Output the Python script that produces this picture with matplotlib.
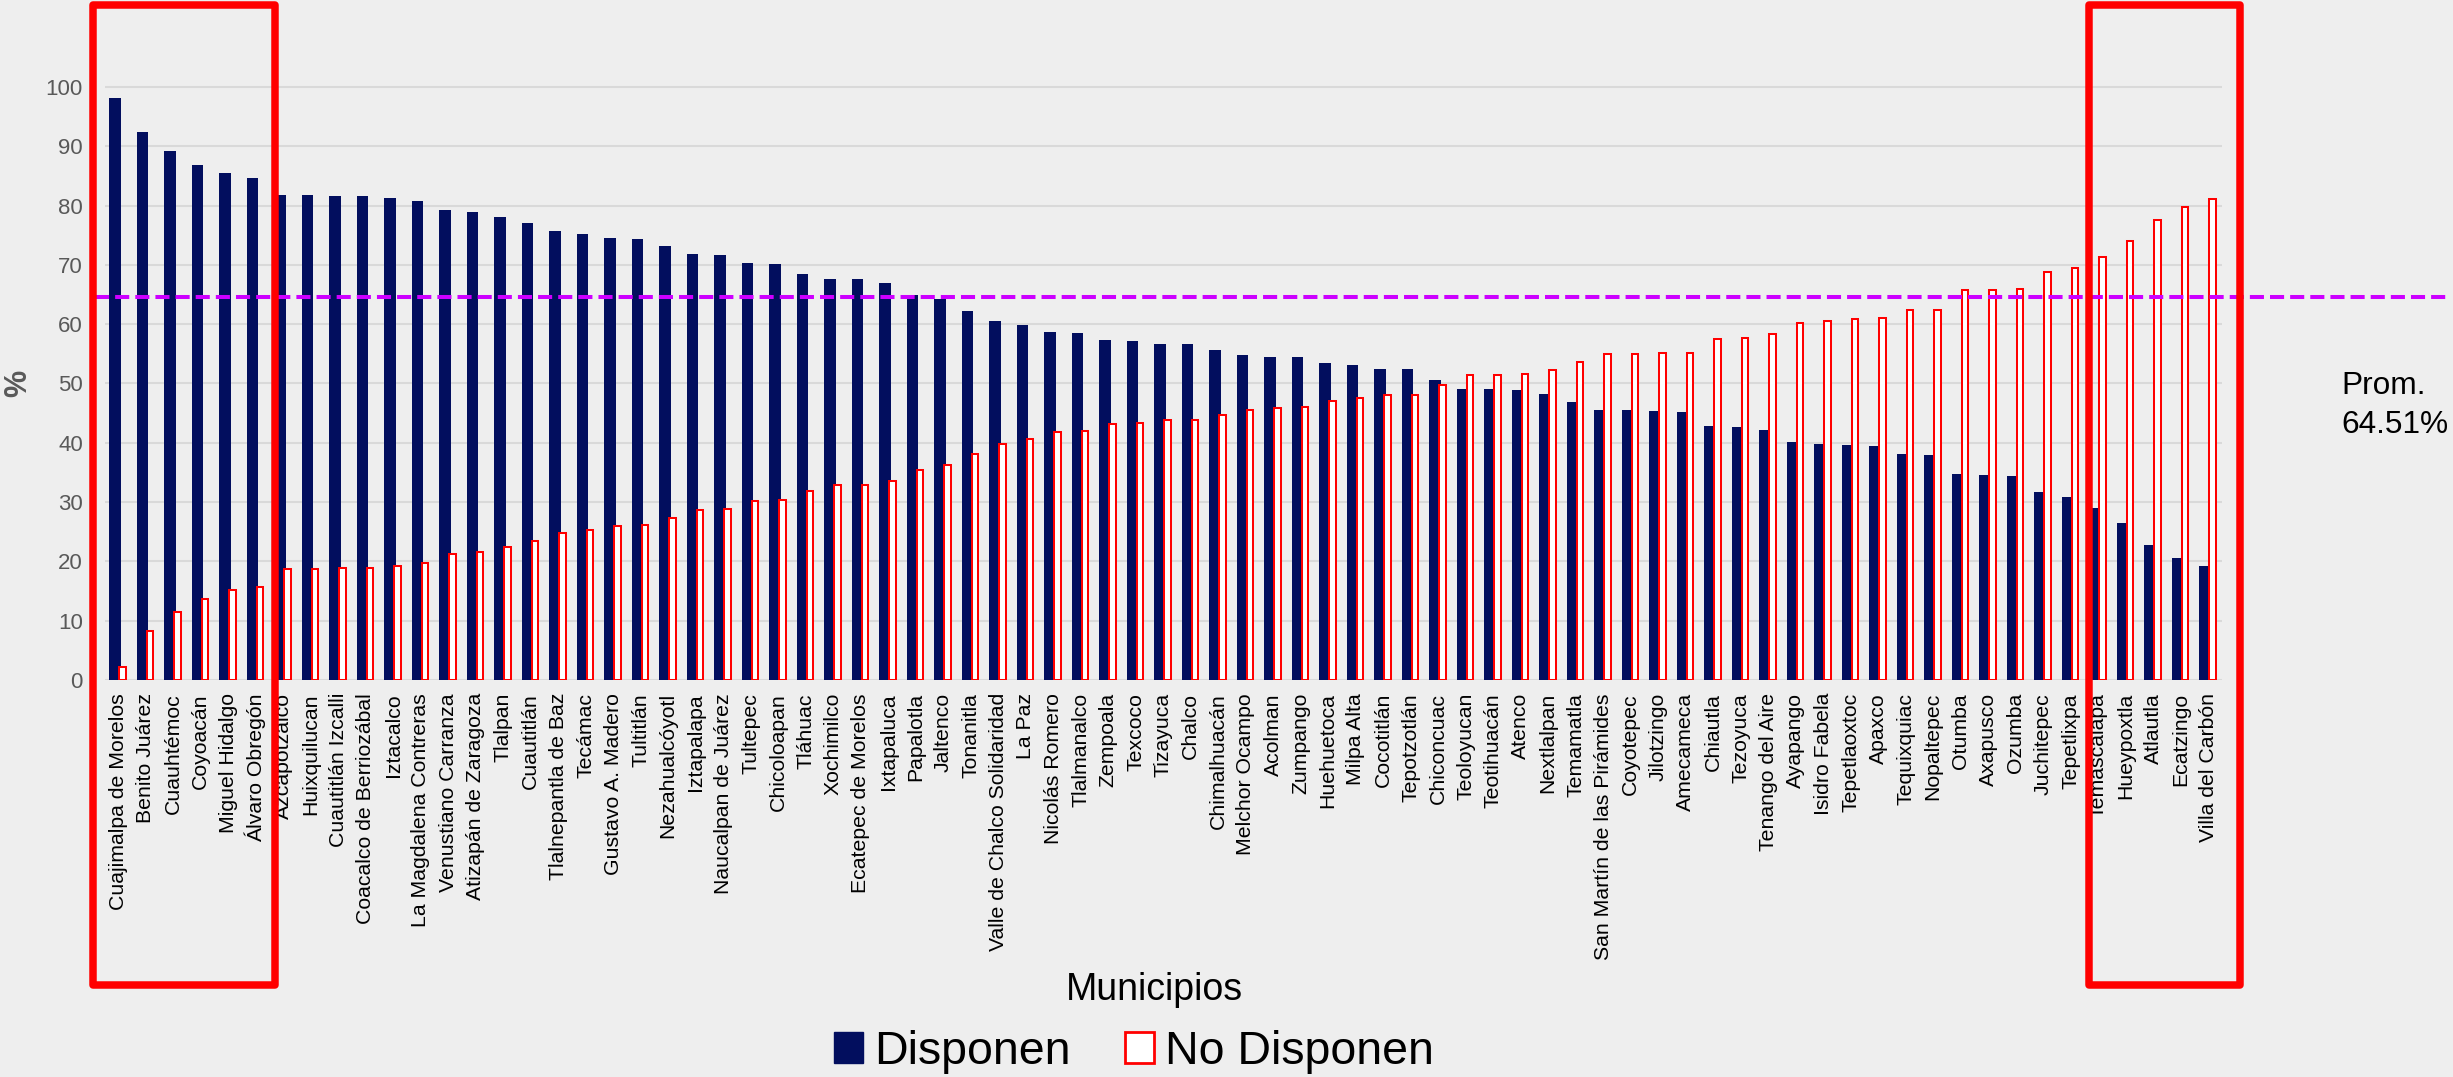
import matplotlib
matplotlib.use("Agg")
import matplotlib.pyplot as plt
from matplotlib.patches import Rectangle, Patch
import numpy as np

plt.rcParams['font.family'] = ['Liberation Sans', 'DejaVu Sans']

# ---- data -------------------------------------------------------------
municipios = [
    "Cuajimalpa de Morelos", "Benito Juárez", "Cuauhtémoc", "Coyoacán",
    "Miguel Hidalgo", "Álvaro Obregón", "Azcapotzalco", "Huixquilucan",
    "Cuautitlán Izcalli", "Coacalco de Berriozábal", "Iztacalco",
    "La Magdalena Contreras", "Venustiano Carranza", "Atizapán de Zaragoza",
    "Tlalpan", "Cuautitlán", "Tlalnepantla de Baz", "Tecámac",
    "Gustavo A. Madero", "Tultitlán", "Nezahualcóyotl", "Iztapalapa",
    "Naucalpan de Juárez", "Tultepec", "Chicoloapan", "Tláhuac", "Xochimilco",
    "Ecatepec de Morelos", "Ixtapaluca", "Papalotla", "Jaltenco", "Tonanitla",
    "Valle de Chalco Solidaridad", "La Paz", "Nicolás Romero", "Tlalmanalco",
    "Zempoala", "Texcoco", "Tizayuca", "Chalco", "Chimalhuacán",
    "Melchor Ocampo", "Acolman", "Zumpango", "Huehuetoca", "Milpa Alta",
    "Cocotitlán", "Tepotzotlán", "Chiconcuac", "Teoloyucan", "Teotihuacán",
    "Atenco", "Nextlalpan", "Temamatla", "San Martín de las Pirámides",
    "Coyotepec", "Jilotzingo", "Amecameca", "Chiautla", "Tezoyuca",
    "Tenango del Aire", "Ayapango", "Isidro Fabela", "Tepetlaoxtoc", "Apaxco",
    "Tequixquiac", "Nopaltepec", "Otumba", "Axapusco", "Ozumba", "Juchitepec",
    "Tepetlixpa", "Temascalapa", "Hueypoxtla", "Atlautla", "Ecatzingo",
    "Villa del Carbón",
]

disponen = [
    98.2, 92.4, 89.2, 86.9, 85.5, 84.7, 81.8, 81.8, 81.6, 81.6, 81.2, 80.7,
    79.3, 79.0, 78.0, 77.1, 75.7, 75.2, 74.6, 74.3, 73.2, 71.8, 71.6, 70.3,
    70.1, 68.5, 67.7, 67.6, 66.9, 65.0, 64.2, 62.3, 60.6, 59.8, 58.7, 58.5,
    57.3, 57.2, 56.7, 56.6, 55.7, 54.8, 54.5, 54.4, 53.4, 53.1, 52.4, 52.4,
    50.6, 49.0, 49.0, 48.9, 48.2, 46.8, 45.6, 45.6, 45.4, 45.2, 42.9, 42.7,
    42.1, 40.2, 39.8, 39.7, 39.4, 38.1, 38.0, 34.8, 34.6, 34.4, 31.7, 30.9,
    29.0, 26.4, 22.8, 20.6, 19.3,
]

no_disponen = [
    2.2, 8.2, 11.4, 13.7, 15.1, 15.7, 18.7, 18.7, 18.9, 18.9, 19.3, 19.8,
    21.2, 21.5, 22.4, 23.5, 24.8, 25.3, 25.9, 26.2, 27.3, 28.7, 28.8, 30.2,
    30.3, 31.9, 32.8, 32.8, 33.6, 35.4, 36.3, 38.1, 39.8, 40.7, 41.8, 42.0,
    43.2, 43.3, 43.8, 43.8, 44.7, 45.6, 45.9, 46.0, 47.1, 47.5, 48.1, 48.1,
    49.8, 51.4, 51.4, 51.6, 52.3, 53.6, 54.9, 54.9, 55.1, 55.2, 57.5, 57.6,
    58.4, 60.2, 60.6, 60.8, 61.0, 62.4, 62.4, 65.7, 65.7, 65.9, 68.8, 69.5,
    71.4, 74.1, 77.6, 79.8, 81.1,
]

promedio = 64.51
y_ticks = list(range(0, 101, 10))
series_labels = ["Disponen", "No Disponen"]

# ---- styling ----------------------------------------------------------
BG = "#EEEEEE"
NAVY = "#020E5E"
RED = "#FF0000"
GRID = "#D9D9D9"
AVG = "#CC00FF"

W, H, DPI = 2453, 1077, 100
fig = plt.figure(figsize=(W / DPI, H / DPI), dpi=DPI, facecolor=BG)

ax_left, ax_right = 105, 2222
ax_bottom, ax_top = 680, 84
ax = fig.add_axes([ax_left / W, 1 - ax_bottom / H,
                   (ax_right - ax_left) / W, (ax_bottom - ax_top) / H])
ax.set_facecolor(BG)

x = np.arange(len(municipios))
ax.bar(x, disponen, width=0.425, color=NAVY, linewidth=0, zorder=3)
ax.bar(x + 0.276, no_disponen, width=0.23, color="white",
       edgecolor=RED, linewidth=1.45, zorder=4)

ax.set_xlim(-0.36, 76.62)
ax.set_ylim(0, 100.5)
ax.set_yticks(y_ticks)
ax.yaxis.grid(True, color=GRID, linewidth=1.5)
ax.set_axisbelow(True)
for s in ax.spines.values():
    s.set_visible(False)

ax.tick_params(axis="y", length=0, pad=16, labelsize=16, labelcolor="#595959")
ax.set_xticks(x + 0.12)
ax.set_xticklabels(municipios, rotation=90, fontsize=15.3, va="top", ha="center")
ax.tick_params(axis="x", length=0, pad=9.4, labelcolor="black")

# average line, running beyond the plot area to the annotation
span = ax_right - ax_left
ax.axhline(promedio, xmin=(95 - ax_left) / span, xmax=(2448 - ax_left) / span,
           color=AVG, linewidth=2.9, dashes=(3.5, 1.5), clip_on=False, zorder=5)
fig.text(2341 / W, 1 - 394 / H, "Prom.", fontsize=22.8, ha="left", va="baseline")
fig.text(2341 / W, 1 - 433 / H, f"{promedio:.2f}%", fontsize=22.8,
         ha="left", va="baseline")

# axis titles
fig.text(18 / W, 1 - 383 / H, "%", rotation=90, fontsize=22, fontweight="bold",
         color="#595959", ha="center", va="center")
fig.text(1154 / W, 1 - 1000 / H, "Municipios", fontsize=27,
         ha="center", va="baseline")

# legend
handles = [Patch(facecolor=NAVY, edgecolor=NAVY),
           Patch(facecolor="white", edgecolor=RED, linewidth=2)]
fig.legend(handles, series_labels, loc="center",
           bbox_to_anchor=(1134 / W, (H - 1052) / H), ncol=2, frameon=False,
           fontsize=33.5, handlelength=0.63, handleheight=0.65,
           handletextpad=0.24, columnspacing=1.16, borderpad=0,
           borderaxespad=0)

# highlight boxes around the top and bottom groups
for x0, x1 in [(93, 274.5), (2089, 2239.5)]:
    fig.add_artist(Rectangle((x0 / W, 1 - 985 / H), (x1 - x0) / W, (985 - 5) / H,
                             fill=False, edgecolor=RED, linewidth=5.4,
                             joinstyle="round", transform=fig.transFigure,
                             zorder=10))

fig.savefig("out.png", dpi=DPI, facecolor=BG)
